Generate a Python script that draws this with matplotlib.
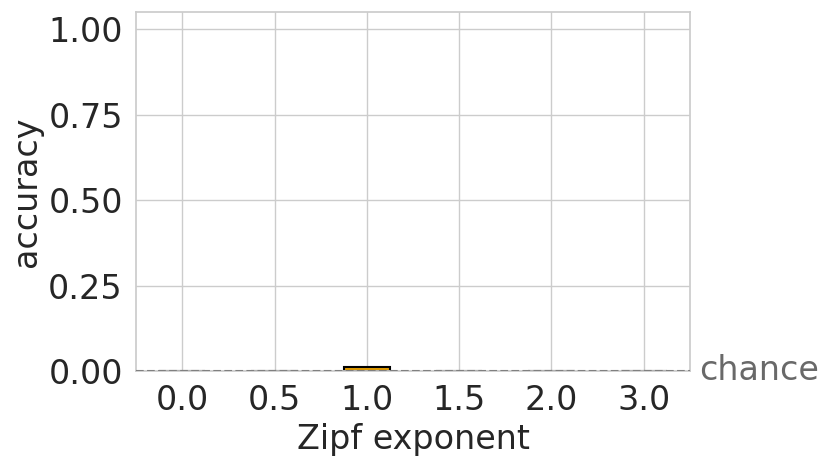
import numpy as np
import matplotlib
matplotlib.use('Agg')
import matplotlib.pyplot as plt
import seaborn as sns

# data
exponents = ['0.0', '0.5', '1.0', '1.5', '2.0', '3.0']
accuracy = [0.0005, 0.001, 0.012, 0.0005, 0.0005, 0.0005]
chance = 0.001

sns.set_theme(style='whitegrid', context='notebook', font_scale=2)
plt.rcParams['font.family'] = ['DejaVu Sans']

fig = plt.figure(figsize=(8.31, 4.66), dpi=100)
ax = fig.add_axes([0.1637, 0.204, 0.6666, 0.770])

x = np.arange(len(exponents))
ax.bar(x, accuracy, width=0.5, color='#E69F00', edgecolor='black', linewidth=1.5, zorder=2)
ax.axhline(chance, color='gray', linestyle='--', linewidth=1.5, zorder=3)
ax.text(1.016, chance, 'chance', transform=ax.get_yaxis_transform(),
        color='dimgray', fontsize=24, va='center', ha='left')

ax.set_xticks(x)
ax.set_xticklabels(exponents)
ax.set_xlim(-0.5, len(exponents) - 0.5)
ax.set_ylim(0, 1.05)
ax.set_yticks([0, 0.25, 0.5, 0.75, 1.0])
ax.set_yticklabels(['0.00', '0.25', '0.50', '0.75', '1.00'])
ax.tick_params(labelsize=24)
ax.set_xlabel('Zipf exponent', fontsize=24)
ax.set_ylabel('accuracy', fontsize=24)
ax.grid(True, axis='both')

fig.savefig('out.png', dpi=100)
